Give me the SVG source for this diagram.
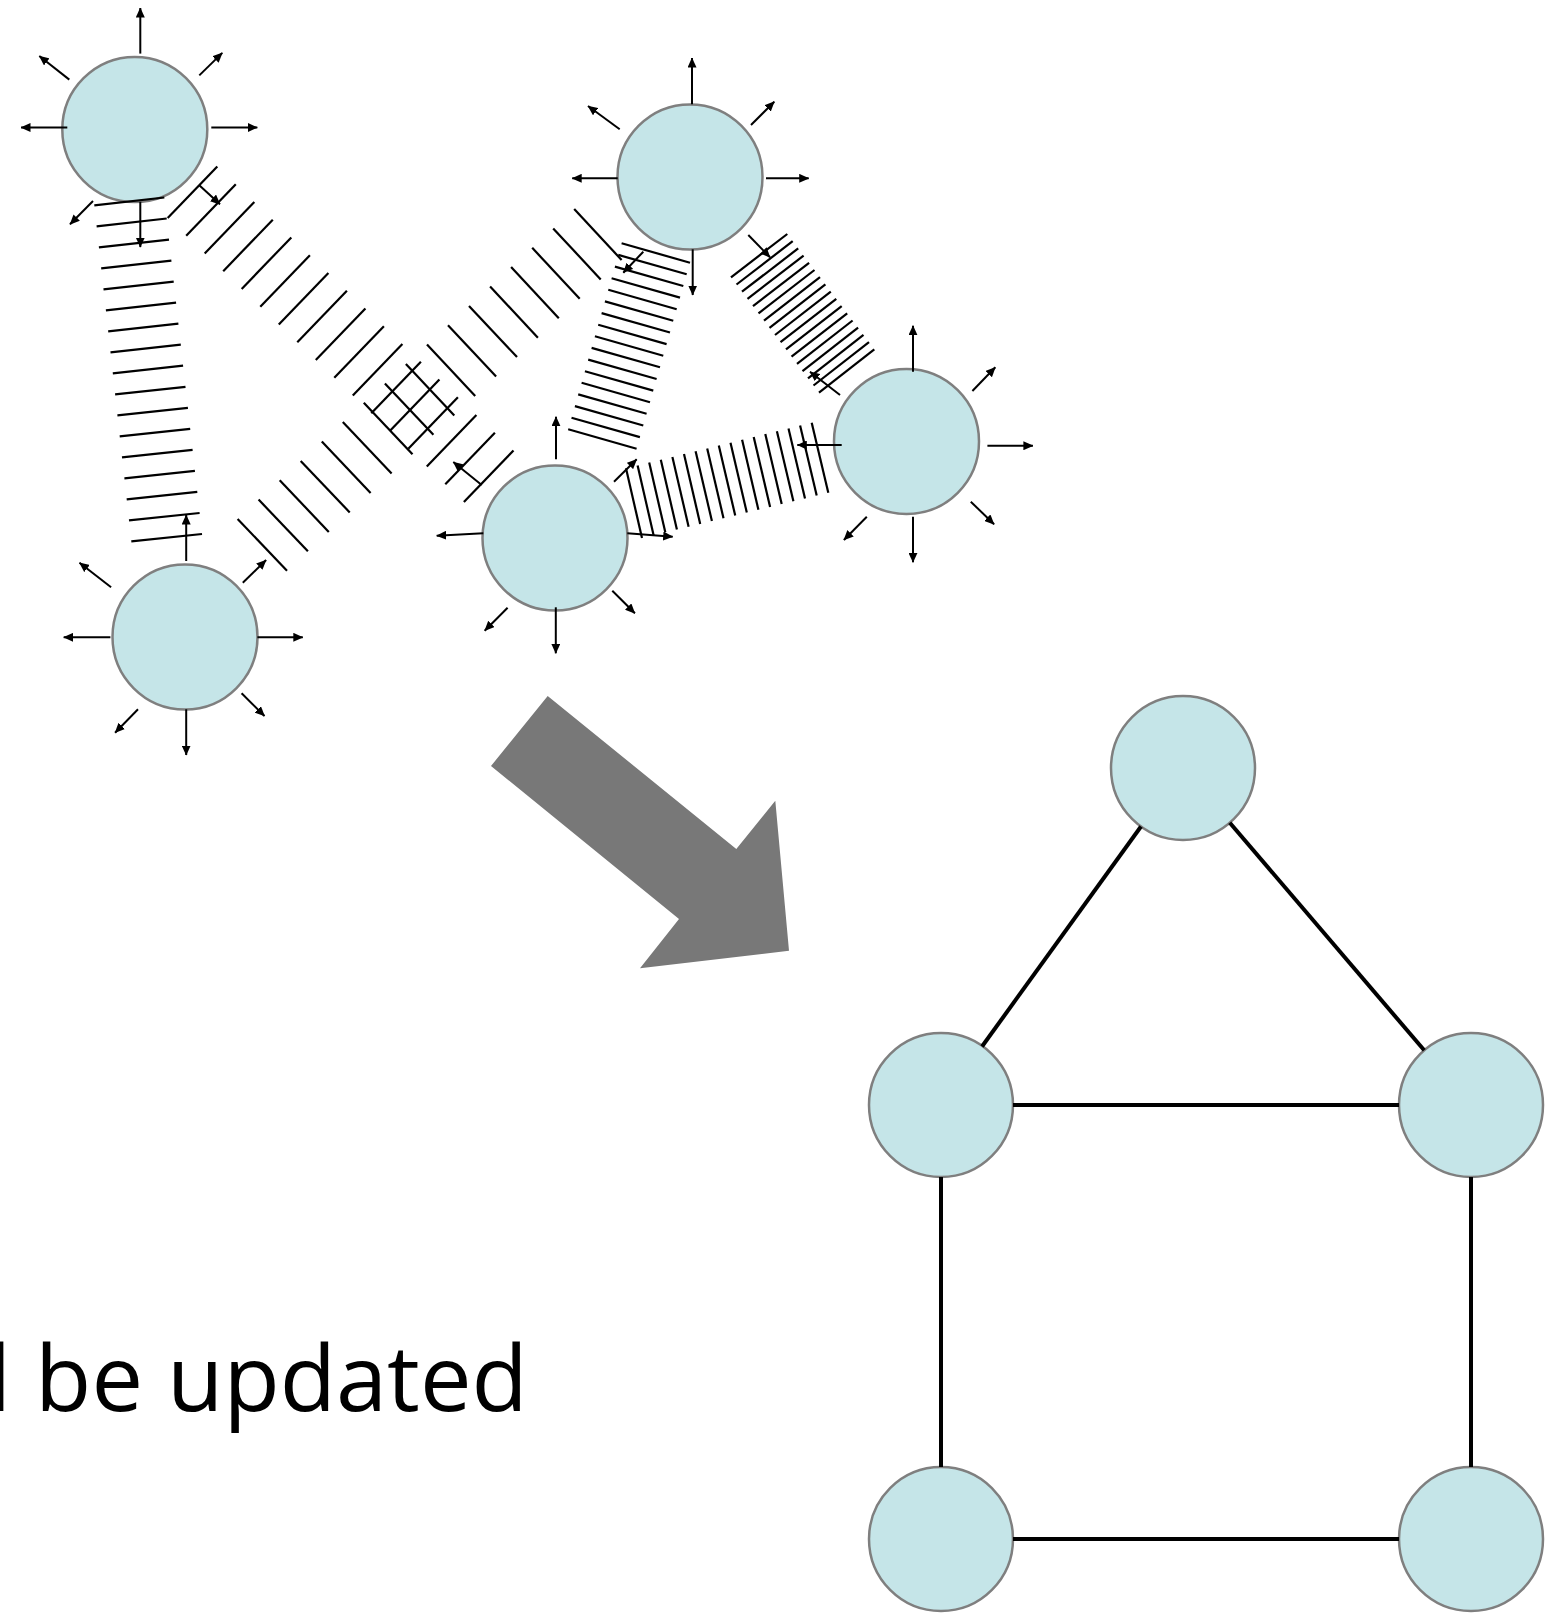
<svg xmlns="http://www.w3.org/2000/svg" width="1546" height="1614" viewBox="0 0 1546 1614">
<style>
.nd{fill:#c5e5e8;stroke:#7f7f7f;stroke-width:2.5}
.h line{stroke:#000;stroke-width:2.2;stroke-linecap:butt}
.a line{stroke:#000;stroke-width:2;marker-end:url(#ah)}
.e line{stroke:#000;stroke-width:4}
.big{fill:#787878}
.txt{font-family:"Open Sans","Noto Sans","Liberation Sans",sans-serif;font-size:92px;fill:#000}
</style>
<defs>
<marker id="ah" viewBox="0 0 10 9" markerWidth="10" markerHeight="9" markerUnits="userSpaceOnUse" refX="9.5" refY="4.5" orient="auto">
<path d="M0,0 L10,4.5 L0,9 z" fill="#000"/>
</marker>
</defs>
<rect width="1546" height="1614" fill="#fff"/>

<g id="nodes">
<g id="nA"><circle class="nd" cx="134.8" cy="129.5" r="72.5"/></g>
<g id="nB"><circle class="nd" cx="690" cy="177" r="72.5"/></g>
<g id="nC"><circle class="nd" cx="906.5" cy="441.5" r="72.5"/></g>
<g id="nD"><circle class="nd" cx="555" cy="538" r="72.5"/></g>
<g id="nE"><circle class="nd" cx="185" cy="637" r="72.5"/></g>
<g id="gT"><circle class="nd" cx="1183" cy="768" r="72"/></g>
<g id="gML"><circle class="nd" cx="941" cy="1105" r="72"/></g>
<g id="gMR"><circle class="nd" cx="1471" cy="1105" r="72"/></g>
<g id="gBL"><circle class="nd" cx="941" cy="1539" r="72"/></g>
<g id="gBR"><circle class="nd" cx="1471" cy="1539" r="72"/></g>
</g>

<g id="connectors">
<g class="h" id="band-AE">
<line x1="94.3" y1="205.4" x2="164.3" y2="197.5"/>
<line x1="96.6" y1="226.4" x2="166.7" y2="218.5"/>
<line x1="98.9" y1="247.4" x2="169.0" y2="239.6"/>
<line x1="101.2" y1="268.4" x2="171.4" y2="260.6"/>
<line x1="103.5" y1="289.4" x2="173.7" y2="281.6"/>
<line x1="105.9" y1="310.4" x2="176.1" y2="302.7"/>
<line x1="108.2" y1="331.4" x2="178.4" y2="323.7"/>
<line x1="110.5" y1="352.4" x2="180.8" y2="344.7"/>
<line x1="112.8" y1="373.4" x2="183.1" y2="365.7"/>
<line x1="115.1" y1="394.4" x2="185.5" y2="386.8"/>
<line x1="117.4" y1="415.4" x2="187.9" y2="407.8"/>
<line x1="119.7" y1="436.4" x2="190.2" y2="428.8"/>
<line x1="122.0" y1="457.4" x2="192.6" y2="449.9"/>
<line x1="124.4" y1="478.3" x2="194.9" y2="470.9"/>
<line x1="126.7" y1="499.3" x2="197.3" y2="491.9"/>
<line x1="129.0" y1="520.3" x2="199.6" y2="513.0"/>
<line x1="131.3" y1="541.3" x2="202.0" y2="534.0"/>
</g>
<g class="h" id="band-AD">
<line x1="167.7" y1="217.9" x2="217.3" y2="166.4"/>
<line x1="186.2" y1="235.7" x2="235.8" y2="184.2"/>
<line x1="204.7" y1="253.4" x2="254.3" y2="201.9"/>
<line x1="223.2" y1="271.2" x2="272.8" y2="219.7"/>
<line x1="241.7" y1="288.9" x2="291.3" y2="237.4"/>
<line x1="260.3" y1="306.7" x2="309.9" y2="255.2"/>
<line x1="278.8" y1="324.4" x2="328.4" y2="272.9"/>
<line x1="297.3" y1="342.2" x2="346.9" y2="290.7"/>
<line x1="315.8" y1="359.9" x2="365.4" y2="308.4"/>
<line x1="334.3" y1="377.7" x2="383.9" y2="326.2"/>
<line x1="352.8" y1="395.5" x2="402.4" y2="344.0"/>
<line x1="371.3" y1="413.2" x2="420.9" y2="361.7"/>
<line x1="389.8" y1="431.0" x2="439.4" y2="379.5"/>
<line x1="408.3" y1="448.7" x2="457.9" y2="397.2"/>
<line x1="426.8" y1="466.5" x2="476.4" y2="415.0"/>
<line x1="445.3" y1="484.2" x2="494.9" y2="432.7"/>
<line x1="463.9" y1="502.0" x2="513.5" y2="450.5"/>
</g>
<g class="h" id="band-EB">
<line x1="237.6" y1="519.0" x2="287.0" y2="570.7"/>
<line x1="258.6" y1="499.6" x2="307.9" y2="551.3"/>
<line x1="279.7" y1="480.3" x2="328.8" y2="531.9"/>
<line x1="300.7" y1="460.9" x2="349.7" y2="512.4"/>
<line x1="321.8" y1="441.5" x2="370.6" y2="493.0"/>
<line x1="342.8" y1="422.1" x2="391.6" y2="473.6"/>
<line x1="363.8" y1="402.8" x2="412.5" y2="454.2"/>
<line x1="384.9" y1="383.4" x2="433.4" y2="434.8"/>
<line x1="405.9" y1="364.0" x2="454.3" y2="415.4"/>
<line x1="427.0" y1="344.6" x2="475.2" y2="395.9"/>
<line x1="448.0" y1="325.3" x2="496.1" y2="376.5"/>
<line x1="469.0" y1="305.9" x2="517.0" y2="357.1"/>
<line x1="490.1" y1="286.5" x2="537.9" y2="337.7"/>
<line x1="511.1" y1="267.1" x2="558.8" y2="318.3"/>
<line x1="532.2" y1="247.8" x2="579.7" y2="298.8"/>
<line x1="553.2" y1="228.4" x2="600.7" y2="279.4"/>
<line x1="574.2" y1="209.0" x2="621.6" y2="260.0"/>
</g>
<g class="h" id="band-BD">
<line x1="621.6" y1="243.3" x2="690.0" y2="262.7"/>
<line x1="618.3" y1="254.9" x2="686.7" y2="274.3"/>
<line x1="614.9" y1="266.6" x2="683.3" y2="286.0"/>
<line x1="611.6" y1="278.2" x2="680.0" y2="297.6"/>
<line x1="608.3" y1="289.8" x2="676.7" y2="309.2"/>
<line x1="604.9" y1="301.4" x2="673.3" y2="320.8"/>
<line x1="601.6" y1="313.1" x2="670.0" y2="332.5"/>
<line x1="598.2" y1="324.7" x2="666.6" y2="344.1"/>
<line x1="594.9" y1="336.3" x2="663.3" y2="355.7"/>
<line x1="591.6" y1="347.9" x2="660.0" y2="367.3"/>
<line x1="588.2" y1="359.6" x2="656.6" y2="379.0"/>
<line x1="584.9" y1="371.2" x2="653.3" y2="390.6"/>
<line x1="581.6" y1="382.8" x2="650.0" y2="402.2"/>
<line x1="578.2" y1="394.4" x2="646.6" y2="413.8"/>
<line x1="574.9" y1="406.1" x2="643.3" y2="425.5"/>
<line x1="571.5" y1="417.7" x2="639.9" y2="437.1"/>
<line x1="568.2" y1="429.3" x2="636.6" y2="448.7"/>
</g>
<g class="h" id="band-BC">
<line x1="731.0" y1="277.3" x2="787.3" y2="234.0"/>
<line x1="736.5" y1="284.5" x2="792.7" y2="241.2"/>
<line x1="742.0" y1="291.7" x2="798.2" y2="248.4"/>
<line x1="747.5" y1="298.9" x2="803.6" y2="255.6"/>
<line x1="753.0" y1="306.1" x2="809.1" y2="262.8"/>
<line x1="758.5" y1="313.4" x2="814.5" y2="270.0"/>
<line x1="764.0" y1="320.6" x2="820.0" y2="277.2"/>
<line x1="769.5" y1="327.8" x2="825.4" y2="284.4"/>
<line x1="775.0" y1="335.0" x2="830.8" y2="291.6"/>
<line x1="780.5" y1="342.2" x2="836.3" y2="298.9"/>
<line x1="786.0" y1="349.4" x2="841.7" y2="306.1"/>
<line x1="791.5" y1="356.6" x2="847.2" y2="313.3"/>
<line x1="797.0" y1="363.9" x2="852.6" y2="320.5"/>
<line x1="802.5" y1="371.1" x2="858.1" y2="327.7"/>
<line x1="808.0" y1="378.3" x2="863.5" y2="334.9"/>
<line x1="813.5" y1="385.5" x2="869.0" y2="342.1"/>
<line x1="819.0" y1="392.7" x2="874.3" y2="349.3"/>
</g>
<g class="h" id="band-CD">
<line x1="626.0" y1="468.3" x2="642.0" y2="538.0"/>
<line x1="637.6" y1="465.5" x2="653.6" y2="535.2"/>
<line x1="649.2" y1="462.6" x2="665.3" y2="532.3"/>
<line x1="660.8" y1="459.8" x2="676.9" y2="529.5"/>
<line x1="672.4" y1="456.9" x2="688.6" y2="526.7"/>
<line x1="684.0" y1="454.1" x2="700.2" y2="523.9"/>
<line x1="695.6" y1="451.2" x2="711.9" y2="521.0"/>
<line x1="707.2" y1="448.4" x2="723.5" y2="518.2"/>
<line x1="718.8" y1="445.5" x2="735.2" y2="515.4"/>
<line x1="730.5" y1="442.7" x2="746.8" y2="512.5"/>
<line x1="742.1" y1="439.8" x2="758.4" y2="509.7"/>
<line x1="753.7" y1="437.0" x2="770.1" y2="506.9"/>
<line x1="765.3" y1="434.1" x2="781.7" y2="504.0"/>
<line x1="776.9" y1="431.3" x2="793.4" y2="501.2"/>
<line x1="788.5" y1="428.4" x2="805.0" y2="498.4"/>
<line x1="800.1" y1="425.6" x2="816.7" y2="495.5"/>
<line x1="811.7" y1="422.7" x2="828.3" y2="492.7"/>
</g>

<g class="a" id="arrows-A">
<line x1="140.3" y1="53.6" x2="140.3" y2="8"/>
<line x1="69.3" y1="79.6" x2="39.3" y2="56"/>
<line x1="199.3" y1="75.4" x2="222.3" y2="52.9"/>
<line x1="67.3" y1="127.5" x2="21" y2="127.5"/>
<line x1="211.3" y1="127.5" x2="257.3" y2="127.5"/>
<line x1="93" y1="201" x2="70" y2="224.3"/>
<line x1="140.3" y1="201.8" x2="140.3" y2="247.1"/>
<line x1="199" y1="185" x2="220" y2="204.3"/>
</g>
<g class="a" id="arrows-B">
<line x1="692" y1="104.3" x2="692" y2="58"/>
<line x1="619.7" y1="129.3" x2="588" y2="106"/>
<line x1="751" y1="125" x2="774.3" y2="101.7"/>
<line x1="617.7" y1="178.3" x2="572.2" y2="178.3"/>
<line x1="766" y1="178.3" x2="808.7" y2="178.3"/>
<line x1="692.7" y1="249.3" x2="692.7" y2="295"/>
<line x1="748.3" y1="235" x2="770" y2="257.3"/>
<line x1="643.3" y1="251.7" x2="623.3" y2="272.7"/>
</g>
<g class="a" id="arrows-C">
<line x1="913" y1="371.7" x2="913" y2="325.7"/>
<line x1="972.4" y1="391" x2="995.3" y2="367.3"/>
<line x1="987.4" y1="445.7" x2="1032.9" y2="445.7"/>
<line x1="970.8" y1="501.7" x2="994.1" y2="524.3"/>
<line x1="913" y1="516.7" x2="913" y2="562.3"/>
<line x1="866.8" y1="516.7" x2="843.9" y2="540"/>
<line x1="841.7" y1="445" x2="797.3" y2="445"/>
<line x1="840" y1="395" x2="810" y2="371.7"/>
</g>
<g class="a" id="arrows-D">
<line x1="556" y1="459.3" x2="556" y2="416.7"/>
<line x1="614" y1="481.7" x2="636.7" y2="459.3"/>
<line x1="627.3" y1="533.3" x2="672.7" y2="536.7"/>
<line x1="612.3" y1="590.7" x2="634.9" y2="613.3"/>
<line x1="555.8" y1="607.3" x2="555.8" y2="653.3"/>
<line x1="507.6" y1="607.7" x2="484.7" y2="630.7"/>
<line x1="483.3" y1="533.3" x2="436.7" y2="535.8"/>
<line x1="481.7" y1="485" x2="453.3" y2="462"/>
</g>
<g class="a" id="arrows-E">
<line x1="186.2" y1="561" x2="186.2" y2="515"/>
<line x1="111.1" y1="587.3" x2="79.5" y2="562.7"/>
<line x1="242.8" y1="582.7" x2="266.1" y2="560"/>
<line x1="110.4" y1="637.3" x2="63.7" y2="637.3"/>
<line x1="257.4" y1="637.3" x2="302.8" y2="637.3"/>
<line x1="138" y1="709.3" x2="115.1" y2="732.7"/>
<line x1="186.2" y1="709.3" x2="186.2" y2="755"/>
<line x1="241.6" y1="693.3" x2="264.5" y2="716"/>
</g>

<g class="e" id="graph-edges">
<line x1="1141.0" y1="826.5" x2="982.0" y2="1046.5"/>
<line x1="1229.8" y1="822.7" x2="1424.2" y2="1050.3"/>
<line x1="1013" y1="1105" x2="1399" y2="1105"/>
<line x1="941" y1="1177" x2="941" y2="1467"/>
<line x1="1471" y1="1177" x2="1471" y2="1467"/>
<line x1="1013" y1="1539" x2="1399" y2="1539"/>
</g>
</g>

<g id="big-arrow">
<polygon class="big" points="547.7,696 736.3,849 775.3,800.7 789,950.7 640,968.3 679,919 491,766"/>
</g>

<g id="caption">
<text class="txt" x="-12" y="1411">l be updated</text>
</g>
</svg>
